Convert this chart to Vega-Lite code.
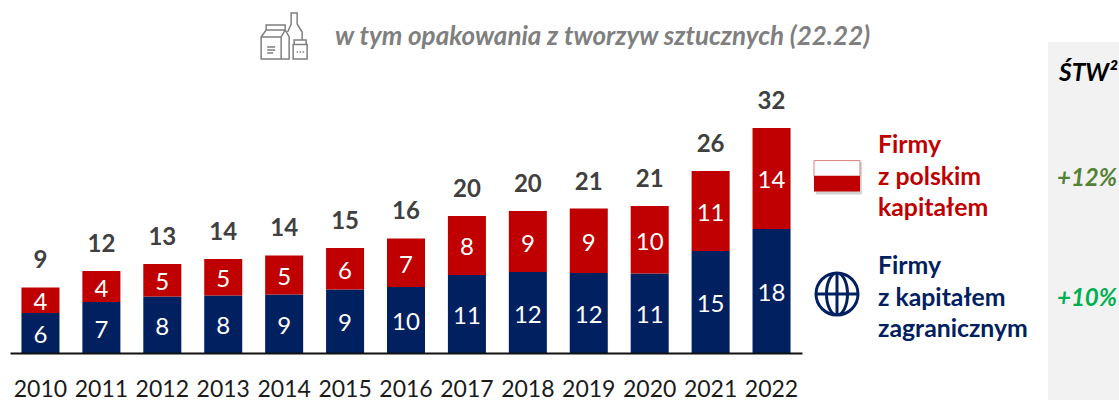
{
"$schema":"https://vega.github.io/schema/vega-lite/v6.json",
"padding":{"left":10,"top":0,"right":0,"bottom":0},
"background":"white",
"bounds":"flush",
"spacing":0,
"config":{"view":{"stroke":null},"text":{"font":"Lato"},"axis":{"labelFont":"Lato"}},
"datasets":{
"bars":[
{"year":"2010","series":"Firmy z kapitałem zagranicznym","order":1,"value":5.69,"label":"6"},
{"year":"2011","series":"Firmy z kapitałem zagranicznym","order":1,"value":7.25,"label":"7"},
{"year":"2012","series":"Firmy z kapitałem zagranicznym","order":1,"value":8.04,"label":"8"},
{"year":"2013","series":"Firmy z kapitałem zagranicznym","order":1,"value":8.18,"label":"8"},
{"year":"2014","series":"Firmy z kapitałem zagranicznym","order":1,"value":8.32,"label":"9"},
{"year":"2015","series":"Firmy z kapitałem zagranicznym","order":1,"value":9.03,"label":"9"},
{"year":"2016","series":"Firmy z kapitałem zagranicznym","order":1,"value":9.39,"label":"10"},
{"year":"2017","series":"Firmy z kapitałem zagranicznym","order":1,"value":11.1,"label":"11"},
{"year":"2018","series":"Firmy z kapitałem zagranicznym","order":1,"value":11.52,"label":"12"},
{"year":"2019","series":"Firmy z kapitałem zagranicznym","order":1,"value":11.38,"label":"12"},
{"year":"2020","series":"Firmy z kapitałem zagranicznym","order":1,"value":11.31,"label":"11"},
{"year":"2021","series":"Firmy z kapitałem zagranicznym","order":1,"value":14.51,"label":"15"},
{"year":"2022","series":"Firmy z kapitałem zagranicznym","order":1,"value":17.64,"label":"18"},
{"year":"2010","series":"Firmy z polskim kapitałem","order":2,"value":3.63,"label":"4"},
{"year":"2011","series":"Firmy z polskim kapitałem","order":2,"value":4.41,"label":"4"},
{"year":"2012","series":"Firmy z polskim kapitałem","order":2,"value":4.62,"label":"5"},
{"year":"2013","series":"Firmy z polskim kapitałem","order":2,"value":5.19,"label":"5"},
{"year":"2014","series":"Firmy z polskim kapitałem","order":2,"value":5.55,"label":"5"},
{"year":"2015","series":"Firmy z polskim kapitałem","order":2,"value":5.9,"label":"6"},
{"year":"2016","series":"Firmy z polskim kapitałem","order":2,"value":6.9,"label":"7"},
{"year":"2017","series":"Firmy z polskim kapitałem","order":2,"value":8.39,"label":"8"},
{"year":"2018","series":"Firmy z polskim kapitałem","order":2,"value":8.68,"label":"9"},
{"year":"2019","series":"Firmy z polskim kapitałem","order":2,"value":9.17,"label":"9"},
{"year":"2020","series":"Firmy z polskim kapitałem","order":2,"value":9.6,"label":"10"},
{"year":"2021","series":"Firmy z polskim kapitałem","order":2,"value":11.38,"label":"11"},
{"year":"2022","series":"Firmy z polskim kapitałem","order":2,"value":14.37,"label":"14"}
],
"totals":[
{"year":"2010","top":9.32,"label":"9"},
{"year":"2011","top":11.66,"label":"12"},
{"year":"2012","top":12.66,"label":"13"},
{"year":"2013","top":13.37,"label":"14"},
{"year":"2014","top":13.87,"label":"14"},
{"year":"2015","top":14.93,"label":"15"},
{"year":"2016","top":16.29,"label":"16"},
{"year":"2017","top":19.49,"label":"20"},
{"year":"2018","top":20.2,"label":"20"},
{"year":"2019","top":20.55,"label":"21"},
{"year":"2020","top":20.91,"label":"21"},
{"year":"2021","top":25.89,"label":"26"},
{"year":"2022","top":32.01,"label":"32"}
],
"note":[{"text":"w tym opakowania z tworzyw sztucznych (22.22)"}],
"legend":[
{"series":"Firmy z polskim kapitałem","text":"Firmy\nz polskim\nkapitałem"},
{"series":"Firmy z kapitałem zagranicznym","text":"Firmy\nz kapitałem\nzagranicznym"}
],
"rates":[
{"series":"Firmy z polskim kapitałem","rate":"+12%"},
{"series":"Firmy z kapitałem zagranicznym","rate":"+10%"}
]
},
"hconcat":[
{
"width":792,"height":400,
"data":{"name":"bars"},
"layer":[
{"mark":{"type":"bar"},
"encoding":{
"x":{"field":"year","type":"nominal",
"scale":{"domain":["2010","2011","2012","2013","2014","2015","2016","2017","2018","2019","2020","2021","2022"],"paddingInner":0.376,"paddingOuter":0.188},
"axis":{"title":null,"orient":"bottom","offset":-47,"ticks":false,"labelAngle":0,"labelFontSize":23,"labelColor":"#1a1a1a","labelPadding":25,"domainColor":"#111111","domainWidth":2,"grid":false,"zindex":1}},
"y":{"field":"value","type":"quantitative","stack":"zero","scale":{"domain":[-6.686,50.213],"nice":false,"zero":false},"axis":null},
"order":{"field":"order","type":"quantitative"},
"color":{"field":"series","type":"nominal","scale":{"domain":["Firmy z kapitałem zagranicznym","Firmy z polskim kapitałem"],"range":["#002060","#C00000"]},"legend":null}
}},
{"mark":{"type":"text","color":"white","fontSize":24,"baseline":"middle","dy":3},
"encoding":{
"x":{"field":"year","type":"nominal"},
"y":{"field":"value","type":"quantitative","stack":"zero","bandPosition":0.5},
"order":{"field":"order","type":"quantitative"},
"detail":{"field":"series","type":"nominal"},
"text":{"field":"label","type":"nominal"}
}},
{"data":{"name":"totals"},
"mark":{"type":"text","color":"#404040","fontSize":24,"fontWeight":"bold","baseline":"middle","dy":-26},
"encoding":{
"x":{"field":"year","type":"nominal"},
"y":{"field":"top","type":"quantitative"},
"text":{"field":"label","type":"nominal"}
}},
{"data":{"name":"note"},
"mark":{"type":"text","color":"#7F7F7F","fontSize":26,"fontWeight":"bold","fontStyle":"italic","align":"left","baseline":"middle","dx":-10,"dy":1},
"encoding":{
"x":{"datum":"2015","type":"nominal"},
"y":{"datum":45.09,"type":"quantitative"},
"text":{"field":"text","type":"nominal"}
}},
{"data":{"values":[{"icon":"packaging"}]},
"mark":{"type":"point","filled":false,"stroke":"#7F7F7F","strokeWidth":1.5,"opacity":1,"size":2500,
"shape":"M-0.92,0L-0.92,0.88L0.2,0.88L0.2,0L0.04,-0.28L-0.72,-0.28ZM-0.12,0.88L-0.12,0L0.04,-0.28M-0.92,0L-0.12,0M-0.72,-0.28L-0.72,-0.48L0.04,-0.48L0.04,-0.28M-0.68,0.4L-0.36,0.4M-0.68,0.52L-0.36,0.52M-0.68,0.64L-0.44,0.64M0.14,-0.2L0.28,-0.52L0.28,-0.96L0.52,-0.96L0.52,-0.52L0.72,-0.2L0.72,0.12M0.4,0.12L0.88,0.12L0.88,0.3L0.4,0.3ZM0.36,0.3L0.36,0.88L0.92,0.88L0.92,0.3ZM0.5,0.6L0.56,0.6M0.62,0.6L0.68,0.6M0.74,0.6L0.8,0.6"},
"encoding":{
"x":{"datum":"2014","type":"nominal"},
"y":{"datum":44.95,"type":"quantitative"}
}}
]
},
{
"width":246,"height":400,
"layer":[
{"data":{"values":[{"flag":"shadow"}]},
"mark":{"type":"point","filled":true,"fill":"#7F7F7F","opacity":0.35,"size":2116,"shape":"M-0.92,-0.6L1.08,-0.6L1.08,0.8L-0.92,0.8Z"},
"encoding":{"x":{"datum":35,"type":"quantitative","scale":{"domain":[0,246],"nice":false,"zero":false},"axis":null},"y":{"datum":176,"type":"quantitative","scale":{"domain":[0,400],"reverse":true,"nice":false,"zero":false},"axis":null}}},
{"data":{"values":[{"flag":"white"}]},
"mark":{"type":"point","filled":true,"fill":"#FFFFFF","stroke":"#D98080","strokeWidth":1,"opacity":1,"size":2116,"shape":"M-1,-0.67L1,-0.67L1,0L-1,0Z"},
"encoding":{"x":{"datum":35,"type":"quantitative"},"y":{"datum":176,"type":"quantitative"}}},
{"data":{"values":[{"flag":"red"}]},
"mark":{"type":"point","filled":true,"fill":"#C00000","opacity":1,"size":2116,"shape":"M-1,0L1,0L1,0.67L-1,0.67Z"},
"encoding":{"x":{"datum":35,"type":"quantitative"},"y":{"datum":176,"type":"quantitative"}}},
{"data":{"values":[{"icon":"globe"}]},
"mark":{"type":"point","filled":false,"stroke":"#002060","strokeWidth":3,"opacity":1,"size":1764,
"shape":"M-1,0A1,1,0,1,1,1,0A1,1,0,1,1,-1,0ZM0,-1A0.5,1,0,0,1,0,1A0.5,1,0,0,1,0,-1ZM-1,0L1,0M0,-1L0,1"},
"encoding":{"x":{"datum":35,"type":"quantitative"},"y":{"datum":294,"type":"quantitative"}}},
{"data":{"name":"legend"},
"transform":[{"filter":"datum.series === 'Firmy z polskim kapitałem'"}],
"mark":{"type":"text","color":"#C00000","fontSize":24.8,"fontWeight":"bold","align":"left","baseline":"middle","lineBreak":"\n","lineHeight":31.5},
"encoding":{"x":{"datum":76,"type":"quantitative"},"y":{"datum":146,"type":"quantitative"},"text":{"field":"text","type":"nominal"}}},
{"data":{"name":"legend"},
"transform":[{"filter":"datum.series === 'Firmy z kapitałem zagranicznym'"}],
"mark":{"type":"text","color":"#002060","fontSize":24.8,"fontWeight":"bold","align":"left","baseline":"middle","lineBreak":"\n","lineHeight":31.5},
"encoding":{"x":{"datum":76,"type":"quantitative"},"y":{"datum":267,"type":"quantitative"},"text":{"field":"text","type":"nominal"}}}
]
},
{
"width":71,"height":400,
"layer":[
{"data":{"values":[{"panel":"STW"}]},
"mark":{"type":"rect","fill":"#F2F2F2"},
"encoding":{
"x":{"datum":0,"type":"quantitative","scale":{"domain":[0,71],"nice":false,"zero":false},"axis":null},
"x2":{"datum":71},
"y":{"datum":42,"type":"quantitative","scale":{"domain":[0,400],"reverse":true,"nice":false,"zero":false},"axis":null},
"y2":{"datum":400}
}},
{"data":{"values":[{"text":"ŚTW²"}]},
"mark":{"type":"text","color":"#000000","fontSize":24.5,"fontWeight":"bold","fontStyle":"italic","align":"left","baseline":"middle"},
"encoding":{"x":{"datum":11,"type":"quantitative"},"y":{"datum":74,"type":"quantitative"},"text":{"field":"text","type":"nominal"}}},
{"data":{"name":"rates"},
"transform":[{"filter":"datum.rate === '+12%'"}],
"mark":{"type":"text","color":"#548235","fontSize":24,"fontWeight":"bold","fontStyle":"italic","align":"left","baseline":"middle"},
"encoding":{"x":{"datum":9,"type":"quantitative"},"y":{"datum":179,"type":"quantitative"},"text":{"field":"rate","type":"nominal"}}},
{"data":{"name":"rates"},
"transform":[{"filter":"datum.rate === '+10%'"}],
"mark":{"type":"text","color":"#00B050","fontSize":24,"fontWeight":"bold","fontStyle":"italic","align":"left","baseline":"middle"},
"encoding":{"x":{"datum":9,"type":"quantitative"},"y":{"datum":299,"type":"quantitative"},"text":{"field":"rate","type":"nominal"}}}
]
}
]
}
